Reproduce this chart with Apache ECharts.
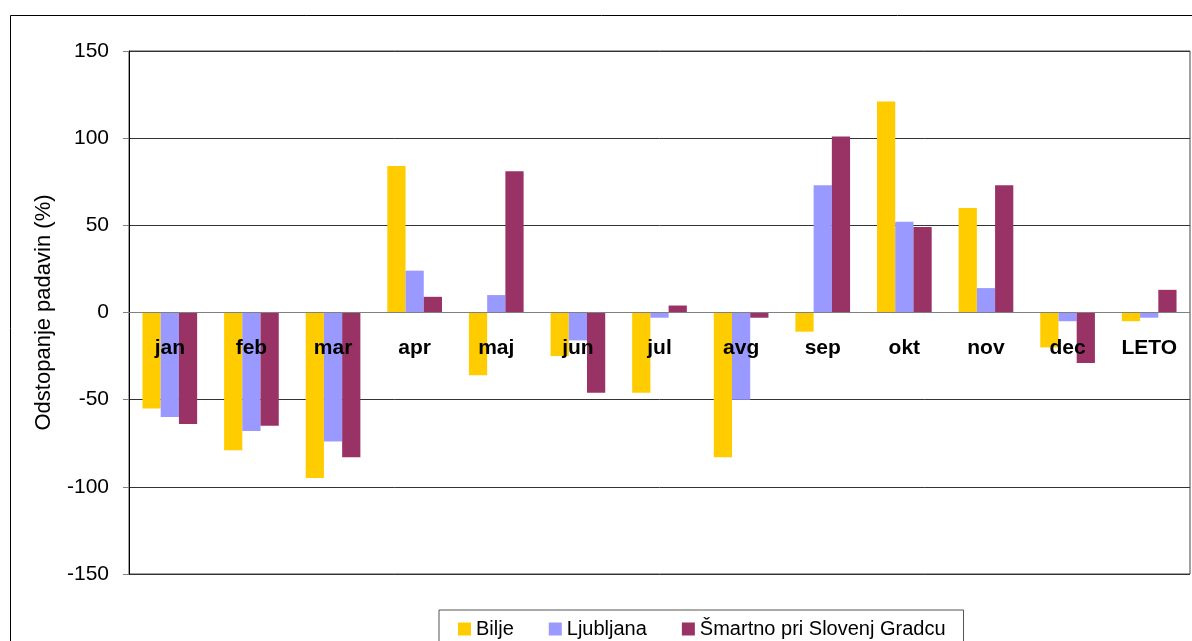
<!DOCTYPE html>
<html>
<head>
<meta charset="utf-8">
<script src="https://cdn.jsdelivr.net/npm/echarts@6/dist/echarts.min.js"></script>
<style>
  html, body { margin: 0; padding: 0; background: #fff; }
  #chart { width: 1192px; height: 641px; }
</style>
</head>
<body>
<div id="chart"></div>
<script>
const months = ['jan', 'feb', 'mar', 'apr', 'maj', 'jun', 'jul', 'avg', 'sep', 'okt', 'nov', 'dec', 'LETO']
const bilje = [-55, -79, -95, 84, -36, -25, -46, -83, -11, 121, 60, -20, -5]
const ljubljana = [-60, -68, -74, 24, 10, -16, -3, -50, 73, 52, 14, -5, -3]
const smartno = [-64, -65, -83, 9, 81, -46, 4, -3, 101, 49, 73, -29, 13]
const yTicks = { min: -150, max: 150, step: 50 }

const chart = echarts.init(document.getElementById('chart'))

const font = 'Liberation Sans, Arial, sans-serif'

const barSeries = (name, data, color) => ({
  type: 'bar',
  name: name,
  data: data,
  barGap: '0%',
  barCategoryGap: '33%',
  itemStyle: { color: color },
  z: 2
})

chart.setOption({
  animation: false,
  textStyle: { fontFamily: font },
  graphic: [
    {
      type: 'rect',
      shape: { x: 10.5, y: 15.5, width: 1300, height: 800 },
      style: { fill: 'none', stroke: '#000', lineWidth: 1 },
      z: -10
    }
  ],
  grid: {
    left: 129,
    top: 51,
    right: 2,
    bottom: 67,
    show: true,
    borderColor: '#444',
    borderWidth: 1
  },
  legend: {
    left: 439,
    top: 610,
    itemWidth: 13,
    itemHeight: 13,
    itemGap: 35,
    icon: 'rect',
    padding: [9, 18, 30, 19],
    borderColor: '#555',
    borderWidth: 1,
    textStyle: { fontSize: 20, color: '#000' },
    data: ['Bilje', 'Ljubljana', 'Šmartno pri Slovenj Gradcu']
  },
  xAxis: {
    type: 'category',
    data: months,
    z: 10,
    offset: -261.5,
    axisLine: { onZero: false, lineStyle: { color: '#808080', width: 1 } },
    axisTick: { show: false },
    axisLabel: {
      color: '#000',
      fontSize: 21,
      fontWeight: 'bold',
      margin: 25
    },
    splitLine: { show: false }
  },
  yAxis: {
    type: 'value',
    min: yTicks.min,
    max: yTicks.max,
    interval: yTicks.step,
    name: 'Odstopanje padavin (%)',
    nameLocation: 'middle',
    nameGap: 74,
    nameTextStyle: { fontSize: 22, color: '#000' },
    axisLine: { show: true, lineStyle: { color: '#000', width: 1 } },
    axisTick: { show: true, length: 6, lineStyle: { color: '#808080' } },
    axisLabel: { color: '#000', fontSize: 21, margin: 20 },
    splitLine: { show: true, lineStyle: { color: '#333', width: 1 } }
  },
  series: [
    barSeries('Bilje', bilje, '#FFCC00'),
    barSeries('Ljubljana', ljubljana, '#9999FF'),
    barSeries('Šmartno pri Slovenj Gradcu', smartno, '#993366')
  ]
})
</script>
</body>
</html>
